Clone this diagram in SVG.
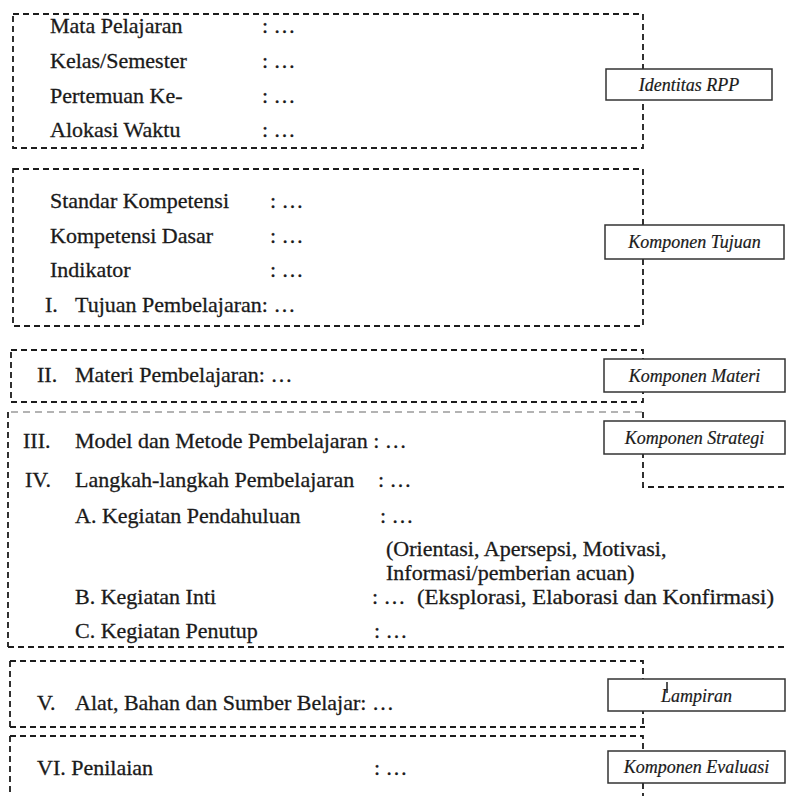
<svg xmlns="http://www.w3.org/2000/svg" width="787" height="796" viewBox="0 0 787 796">
  <style>
    .frame { fill: none; stroke: #1c1c1c; stroke-width: 1.8; stroke-dasharray: 6 4; }
    .frame-light { fill: none; stroke: #9a9a9a; stroke-width: 1.3; stroke-dasharray: 7 5; }
    .tag { fill: #ffffff; stroke: #333333; stroke-width: 1.5; }
    .t { font-family: "Liberation Serif", "Times New Roman", "DejaVu Serif", serif; font-size: 22px; fill: #1a1a1a; stroke: #1a1a1a; stroke-width: 0.3; }
    .tag-t { font-family: "Liberation Serif", "Times New Roman", "DejaVu Serif", serif; font-size: 18px; font-style: italic; fill: #1a1a1a; stroke: #1a1a1a; stroke-width: 0.2; text-anchor: middle; }
  </style>

  <rect width="787" height="796" fill="#ffffff"/>

  <!-- Section frames (dashed outlines) -->
  <g id="frames">
    <rect class="frame" x="13" y="14" width="630" height="134"/>
    <rect class="frame" x="13" y="169" width="630" height="157"/>
    <rect class="frame" x="11" y="350" width="632" height="52"/>
    <!-- strategy section: light top rule, stepped right side -->
    <line class="frame-light" x1="11" y1="412" x2="643" y2="412"/>
    <path class="frame" d="M8,412 V647 M643,412 V487 H787 M8,647 H787"/>
    <!-- tools / media section -->
    <path class="frame" d="M10,661 H643 V727 M10,661 V727 M10,727 H645"/>
    <!-- assessment section -->
    <path class="frame" d="M10,736 H643 V796 M10,736 V796"/>
  </g>

  <!-- Identity block -->
  <g id="identitas">
    <text class="t" x="50" y="33">Mata Pelajaran</text>
    <text class="t" x="262" y="33">: …</text>
    <text class="t" x="50" y="68">Kelas/Semester</text>
    <text class="t" x="262" y="68">: …</text>
    <text class="t" x="50" y="103">Pertemuan Ke-</text>
    <text class="t" x="262" y="103">: …</text>
    <text class="t" x="50" y="137">Alokasi Waktu</text>
    <text class="t" x="262" y="137">: …</text>
    <rect class="tag" x="606" y="69" width="166" height="31"/>
    <text class="tag-t" x="689" y="91">Identitas RPP</text>
  </g>

  <!-- Objectives block -->
  <g id="tujuan">
    <text class="t" x="50" y="208">Standar Kompetensi</text>
    <text class="t" x="270" y="208">: …</text>
    <text class="t" x="50" y="243">Kompetensi Dasar</text>
    <text class="t" x="270" y="243">: …</text>
    <text class="t" x="50" y="277">Indikator</text>
    <text class="t" x="270" y="277">: …</text>
    <text class="t" x="45" y="312">I.</text>
    <text class="t" x="75" y="312">Tujuan Pembelajaran: …</text>
    <rect class="tag" x="605" y="225" width="179" height="34"/>
    <text class="tag-t" x="694.5" y="248">Komponen Tujuan</text>
  </g>

  <!-- Material block -->
  <g id="materi">
    <text class="t" x="37" y="382">II.</text>
    <text class="t" x="75" y="382">Materi Pembelajaran: …</text>
    <rect class="tag" x="604" y="359" width="181" height="33"/>
    <text class="tag-t" x="694.5" y="382">Komponen Materi</text>
  </g>

  <!-- Strategy block -->
  <g id="strategi">
    <text class="t" x="23" y="448">III.</text>
    <text class="t" x="75" y="448">Model dan Metode Pembelajaran : …</text>
    <text class="t" x="25" y="487">IV.</text>
    <text class="t" x="75" y="487">Langkah-langkah Pembelajaran</text>
    <text class="t" x="378" y="487">: …</text>
    <text class="t" x="75" y="523">A. Kegiatan Pendahuluan</text>
    <text class="t" x="380" y="523">: …</text>
    <text class="t" x="386" y="556">(Orientasi, Apersepsi, Motivasi,</text>
    <text class="t" x="386" y="580">Informasi/pemberian acuan)</text>
    <text class="t" x="75" y="604">B. Kegiatan Inti</text>
    <text class="t" x="372" y="604">: …</text>
    <text class="t" x="417" y="604" textLength="357" lengthAdjust="spacingAndGlyphs">(Eksplorasi, Elaborasi dan Konfirmasi)</text>
    <text class="t" x="75" y="638">C. Kegiatan Penutup</text>
    <text class="t" x="374" y="638">: …</text>
    <rect class="tag" x="604" y="421" width="181" height="33"/>
    <text class="tag-t" x="694.5" y="444">Komponen Strategi</text>
  </g>

  <!-- Tools and sources block -->
  <g id="lampiran">
    <text class="t" x="37" y="710">V.</text>
    <text class="t" x="75" y="710">Alat,  Bahan dan Sumber Belajar: …</text>
    <rect class="tag" x="608" y="679" width="177" height="32"/>
    <text class="tag-t" x="696.5" y="702">Lampiran</text>
    <line x1="667" y1="682" x2="667" y2="693" stroke="#1c1c1c" stroke-width="1.5"/>
  </g>

  <!-- Assessment block -->
  <g id="evaluasi">
    <text class="t" x="37" y="775">VI. Penilaian</text>
    <text class="t" x="374" y="775">: …</text>
    <rect class="tag" x="608" y="751" width="177" height="32"/>
    <text class="tag-t" x="696.5" y="773">Komponen Evaluasi</text>
  </g>

  <g id="connectors"/>
</svg>
